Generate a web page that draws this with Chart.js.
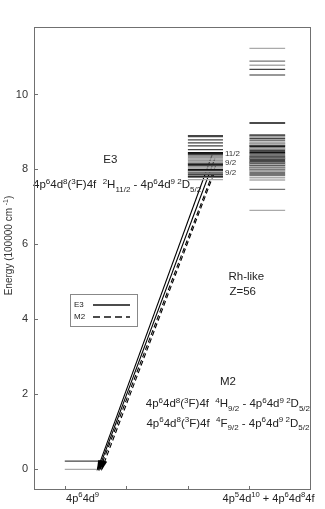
<!DOCTYPE html>
<html>
<head>
<meta charset="utf-8">
<script src="https://cdn.jsdelivr.net/npm/chart.js@4"></script>
<style>
    html, body { margin: 0; padding: 0; background: #fff; }
</style>
</head>
<body>
<canvas id="chart" width="325" height="509"></canvas>
<script>
// Energy level diagram, Rh-like Z=56

const FONT = 'Liberation Sans, Arial, sans-serif';

// level groups: x extent of each column (axis units)
const groundSpan = [1.0, 1.58];
const upperSpan = [3.0, 3.57];
const mixedSpan = [4.0, 4.58];

// 4p6 4d9 ground configuration (100000 cm-1)
const groundDark = [0.22];
const groundLight = [0];

// 4p6 4d8 4f levels
const upperBlack = [8.45, 8.43, 8.14, 8.00, 7.98, 7.82];
const upperDark = [8.90, 8.88, 8.79, 8.71, 8.63, 8.53, 8.40, 8.17, 8.11, 7.93, 7.87];
const upperGray = [8.36, 8.31, 8.25, 8.07, 7.90, 7.79];
const upperLight = [8.28, 8.21, 8.04, 7.95, 7.73];

// 4p5 4d10 + 4p6 4d8 4f levels
const mixedBlack = [9.24, 8.62, 8.47, 8.44, 8.33, 8.28, 8.20, 8.15, 8.11, 7.99];
const mixedDark = [10.67, 8.90, 8.82, 8.64, 8.51, 8.36, 8.24, 8.04, 7.93, 7.88];
const mixedGray = [10.89, 10.52, 8.93, 8.77, 8.70, 8.58, 8.54, 8.40, 8.30, 8.18, 8.06, 7.84, 7.47];
const mixedLight = [11.23, 10.78, 8.86, 8.73, 8.68, 8.56, 8.13, 8.08, 8.02, 7.96, 7.78, 7.72, 6.91];

// J labels next to the transition levels
const jLabels = ['11/2', '9/2', '9/2'];
const jEnergies = [8.43, 8.17, 7.90];

// transitions: upper level -> ground (x top, y top, x bottom)
const e3TopX = [3.40, 3.44];
const e3TopY = [8.42, 8.30];
const e3BottomX = [1.53, 1.55];
const m2TopX = [3.45, 3.42];
const m2TopY = [8.10, 7.88];
const m2BottomX = [1.57, 1.60];

const xTickValues = [1, 2, 3, 4];
const yTickValues = [0, 2, 4, 6, 8, 10];

const columnLabels = ['4p^{6}4d^{9}', '4p^{5}4d^{10} + 4p^{6}4d^{8}4f'];
const columnLabelX = [1.29, 4.31];

function levelData(span, energies) {
    const pts = [];
    energies.forEach(e => {
        pts.push({ x: span[0], y: e });
        pts.push({ x: span[1], y: e });
        pts.push({ x: span[1], y: null });
    });
    return pts;
}

function levelSet(span, energies, color) {
    return {
        data: levelData(span, energies),
        borderColor: color,
        borderWidth: 1.4,
        showLine: true,
        spanGaps: false,
        pointRadius: 0
    };
}

function transitionSet(label, x0, y0, x1, dash) {
    return {
        label: label,
        data: [{ x: x0, y: y0 }, { x: x1, y: 0 }],
        borderColor: '#000',
        borderWidth: 1.1,
        borderDash: dash,
        showLine: true,
        pointRadius: 0,
        arrow: true
    };
}

const BLACK = '#111', DARK = '#444', GRAY = '#777', LIGHT = '#aaa';

const datasets = [
    levelSet(groundSpan, groundLight, LIGHT),
    levelSet(groundSpan, groundDark, DARK),
    levelSet(upperSpan, upperLight, LIGHT),
    levelSet(upperSpan, upperGray, GRAY),
    levelSet(upperSpan, upperDark, DARK),
    levelSet(upperSpan, upperBlack, BLACK),
    levelSet(mixedSpan, mixedLight, LIGHT),
    levelSet(mixedSpan, mixedGray, GRAY),
    levelSet(mixedSpan, mixedDark, DARK),
    levelSet(mixedSpan, mixedBlack, BLACK)
];
e3TopX.forEach((x, i) => datasets.push(transitionSet('E3', x, e3TopY[i], e3BottomX[i], [])));
m2TopX.forEach((x, i) => datasets.push(transitionSet('M2', x, m2TopY[i], m2BottomX[i], [5, 3])));

// --- rich text with ^{sup} and _{sub} ---
function parseRich(str) {
    const segs = [];
    const re = /([\^_])\{([^}]*)\}/g;
    let last = 0, m;
    while ((m = re.exec(str)) !== null) {
        if (m.index > last) segs.push({ t: str.slice(last, m.index), mode: 0 });
        segs.push({ t: m[2], mode: m[1] === '^' ? 1 : -1 });
        last = re.lastIndex;
    }
    if (last < str.length) segs.push({ t: str.slice(last), mode: 0 });
    return segs;
}

function segFont(size, mode) {
    return (mode === 0 ? size : size * 0.7).toFixed(1) + 'px ' + FONT;
}

function richWidth(ctx, segs, size) {
    let w = 0;
    segs.forEach(s => { ctx.font = segFont(size, s.mode); w += ctx.measureText(s.t).width; });
    return w;
}

function drawRich(ctx, str, x, y, size, align, color) {
    const segs = parseRich(str);
    const w = richWidth(ctx, segs, size);
    let cx = align === 'center' ? x - w / 2 : (align === 'right' ? x - w : x);
    ctx.save();
    ctx.fillStyle = color || '#222';
    ctx.textAlign = 'left';
    ctx.textBaseline = 'alphabetic';
    segs.forEach(s => {
        ctx.font = segFont(size, s.mode);
        const dy = s.mode === 1 ? -size * 0.42 : (s.mode === -1 ? size * 0.28 : 0);
        ctx.fillText(s.t, cx, y + dy);
        cx += ctx.measureText(s.t).width;
    });
    ctx.restore();
}

// frame, inward ticks, axis labels
const framePlugin = {
    id: 'frame',
    afterDraw(chart) {
        const { ctx, chartArea: a, scales: { x, y } } = chart;
        ctx.save();
        ctx.strokeStyle = '#707070';
        ctx.lineWidth = 1;
        ctx.strokeRect(a.left + 0.5, a.top + 0.5, a.right - a.left - 1, a.bottom - a.top - 1);
        ctx.beginPath();
        yTickValues.forEach(v => {
            const py = Math.round(y.getPixelForValue(v)) + 0.5;
            ctx.moveTo(a.left, py); ctx.lineTo(a.left + 4, py);
        });
        xTickValues.forEach(v => {
            const px = Math.round(x.getPixelForValue(v)) + 0.5;
            ctx.moveTo(px, a.bottom); ctx.lineTo(px, a.bottom - 4);
        });
        ctx.stroke();
        ctx.restore();

        // y title
        ctx.save();
        ctx.translate(9, (a.top + a.bottom) / 2 - 13);
        ctx.rotate(-Math.PI / 2);
        drawRich(ctx, 'Energy (100000 cm ^{-1})', 0, 3, 10, 'center', '#333');
        ctx.restore();

        // column labels
        columnLabels.forEach((t, i) => {
            drawRich(ctx, t, x.getPixelForValue(columnLabelX[i]), a.bottom + 12, 11, 'center', '#222');
        });
    }
};

// annotations, J labels, arrowheads, legend
const notePlugin = {
    id: 'notes',
    afterDatasetsDraw(chart) {
        const { ctx, chartArea: a, scales: { x, y } } = chart;

        chart.data.datasets.forEach((ds, i) => {
            if (!ds.arrow) return;
            const pts = chart.getDatasetMeta(i).data;
            const p0 = pts[0], p1 = pts[1];
            const dx = p1.x - p0.x, dy = p1.y - p0.y;
            const len = Math.hypot(dx, dy);
            const ux = dx / len, uy = dy / len;
            const tipX = p1.x + ux * 2, tipY = p1.y + uy * 2;
            const bx = tipX - ux * 11, by = tipY - uy * 11;
            ctx.save();
            ctx.fillStyle = '#000';
            ctx.beginPath();
            ctx.moveTo(tipX, tipY);
            ctx.lineTo(bx - uy * 2.4, by + ux * 2.4);
            ctx.lineTo(bx + uy * 2.4, by - ux * 2.4);
            ctx.closePath();
            ctx.fill();
            ctx.restore();
        });

        ctx.save();
        ctx.fillStyle = '#333';
        ctx.font = '8px ' + FONT;
        ctx.textBaseline = 'middle';
        jLabels.forEach((t, i) => {
            ctx.fillText(t, x.getPixelForValue(upperSpan[1]) + 2, y.getPixelForValue(jEnergies[i]));
        });
        ctx.restore();

        const notes = [
            ['E3', 1.74, 8.27],
            ['4p^{6}4d^{8}(^{3}F)4f  ^{2}H_{11/2} - 4p^{6}4d^{9 2}D_{5/2}', 1.85, 7.60],
            ['Rh-like', 3.95, 5.17],
            ['Z=56', 3.89, 4.75],
            ['M2', 3.65, 2.37],
            ['4p^{6}4d^{8}(^{3}F)4f  ^{4}H_{9/2} - 4p^{6}4d^{9 2}D_{5/2}', 3.65, 1.76],
            ['4p^{6}4d^{8}(^{3}F)4f  ^{4}F_{9/2} - 4p^{6}4d^{9 2}D_{5/2}', 3.65, 1.23]
        ];
        notes.forEach(n => {
            drawRich(ctx, n[0], x.getPixelForValue(n[1]), y.getPixelForValue(n[2]) + 4, 11.5, 'center', '#222');
        });

        // legend box
        const lx = a.left + 36, ly = a.top + 267;
        ctx.save();
        ctx.strokeStyle = '#888';
        ctx.lineWidth = 1;
        ctx.strokeRect(lx + 0.5, ly + 0.5, 67, 32);
        ctx.fillStyle = '#222';
        ctx.font = '8px ' + FONT;
        ctx.textBaseline = 'middle';
        const entries = [
            { label: 'E3', dash: [] },
            { label: 'M2', dash: [7, 4] }
        ];
        entries.forEach((e, i) => {
            const ey = ly + 11 + i * 12;
            ctx.fillText(e.label, lx + 4, ey);
            ctx.strokeStyle = '#111';
            ctx.lineWidth = 1.3;
            ctx.setLineDash(e.dash);
            ctx.beginPath();
            ctx.moveTo(lx + 23, ey);
            ctx.lineTo(lx + 60, ey);
            ctx.stroke();
        });
        ctx.restore();
    }
};

new Chart(document.getElementById('chart'), {
    type: 'scatter',
    data: { datasets: datasets },
    options: {
        responsive: false,
        animation: false,
        devicePixelRatio: 1,
        layout: { padding: { top: 27, right: 14, left: 0, bottom: 0 } },
        plugins: { legend: { display: false }, tooltip: { enabled: false } },
        elements: { point: { radius: 0 } },
        scales: {
            x: {
                type: 'linear', min: 0.5, max: 5,
                ticks: { display: false },
                grid: { display: false, drawTicks: false },
                border: { display: false },
                afterFit(s) { s.height = 19; }
            },
            y: {
                type: 'linear', min: -0.55, max: 11.8,
                ticks: {
                    stepSize: 2, includeBounds: false, padding: 6, color: '#333',
                    font: { family: FONT, size: 11 },
                    callback: v => (yTickValues.includes(v) ? v : '')
                },
                grid: { display: false, drawTicks: false },
                border: { display: false },
                afterFit(s) { s.width = 34; }
            }
        }
    },
    plugins: [framePlugin, notePlugin]
});
</script>
</body>
</html>
